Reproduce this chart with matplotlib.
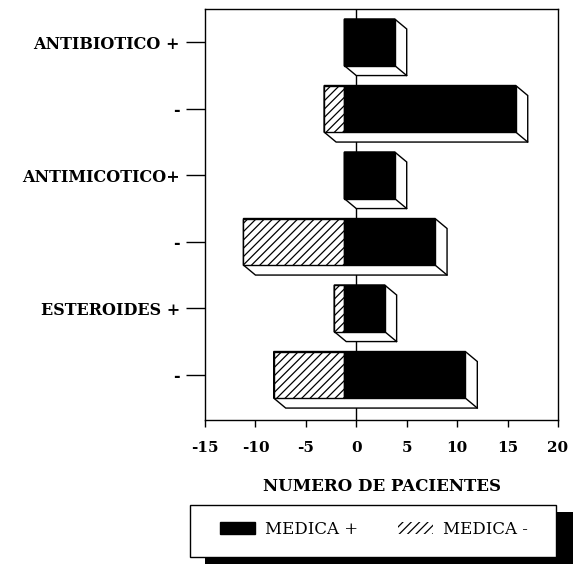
import matplotlib.pyplot as plt
from matplotlib.patches import Polygon, Rectangle
from matplotlib.lines import Line2D

categories = ["ANTIBIOTICO +", "-", "ANTIMICOTICO+", "-", "ESTEROIDES +", "-"]
medica_pos = [5, 17, 5, 9, 4, 12]
medica_neg = [0, -2, 0, -10, -1, -7]
x_ticks = [-15, -10, -5, 0, 5, 10, 15, 20]
series_labels = ["MEDICA +", "MEDICA -"]

FONT = "DejaVu Serif"
plt.rcParams["hatch.linewidth"] = 0.9

fig = plt.figure(figsize=(5.73, 5.64), dpi=100)
ax = fig.add_axes([0.3578, 0.2553, 0.616, 0.7287])
ax.set_xlim(-15, 20)
ax.set_ylim(5.68, -0.5)

# pixel depth of the 3d effect converted to data units
inv = ax.transData.inverted()
p0 = inv.transform((0, 0))
p1 = inv.transform((12, -10))
ddx = p1[0] - p0[0]
ddy = p1[1] - p0[1]

ax.axvline(0, color="black", lw=1.0, zorder=1)

h = 0.7
for i, (neg, pos) in enumerate(zip(medica_neg, medica_pos)):
    y0, y1 = i - h / 2, i + h / 2
    xa, xb = neg, pos
    sil = Polygon(
        [(xa - ddx, y0), (xb - ddx, y0), (xb, y0 + ddy), (xb, y1 + ddy),
         (xa, y1 + ddy), (xa - ddx, y1)],
        closed=True, facecolor="white", edgecolor="black", lw=1.0, zorder=2)
    ax.add_patch(sil)
    ax.add_line(Line2D([xb - ddx, xb], [y1, y1 + ddy], color="black", lw=1.0, zorder=3))
    if neg < 0:
        ax.add_patch(Rectangle((xa - ddx, y0), -xa, h, facecolor="white",
                               edgecolor="black", hatch="////", lw=1.0, zorder=4))
    ax.add_patch(Rectangle((-ddx, y0), xb, h, facecolor="black",
                           edgecolor="black", lw=1.0, zorder=4))

ax.set_yticks(range(len(categories)))
ax.set_yticklabels(categories, fontfamily=FONT, fontweight="bold", fontsize=11.5)
ax.set_xticks(x_ticks)
ax.set_xticklabels([str(v) for v in x_ticks],
                   fontfamily=FONT, fontweight="bold", fontsize=11)
ax.tick_params(axis="y", length=14, width=1, pad=4)
ax.tick_params(axis="x", direction="out", length=5, width=1, pad=10)
for s in ax.spines.values():
    s.set_linewidth(1.0)
ax.set_xlabel("NUMERO DE PACIENTES", fontfamily=FONT, fontweight="bold",
              fontsize=12, labelpad=17)

# legend box with black drop shadow
shadow = Rectangle((0.358, 0.0), 0.642, 0.0922, transform=fig.transFigure,
                   facecolor="black", edgecolor="none", zorder=0)
box = Rectangle((0.3316, 0.0124), 0.6387, 0.0922, transform=fig.transFigure,
                facecolor="white", edgecolor="black", lw=1.0, zorder=1)
fig.patches.extend([shadow, box])
handles = [
    Rectangle((0, 0), 1, 1, facecolor="black", edgecolor="black"),
    Rectangle((0, 0), 1, 1, facecolor="white", edgecolor="black", lw=0, hatch="////"),
]
leg = fig.legend(handles, series_labels, loc="center", bbox_to_anchor=(0.652, 0.062),
                 ncol=2, frameon=False, prop={"family": FONT, "size": 12},
                 handlelength=2.1, handleheight=0.75, handletextpad=0.6,
                 columnspacing=2.4)
leg.set_zorder(2)

fig.savefig("out.png", dpi=100)
